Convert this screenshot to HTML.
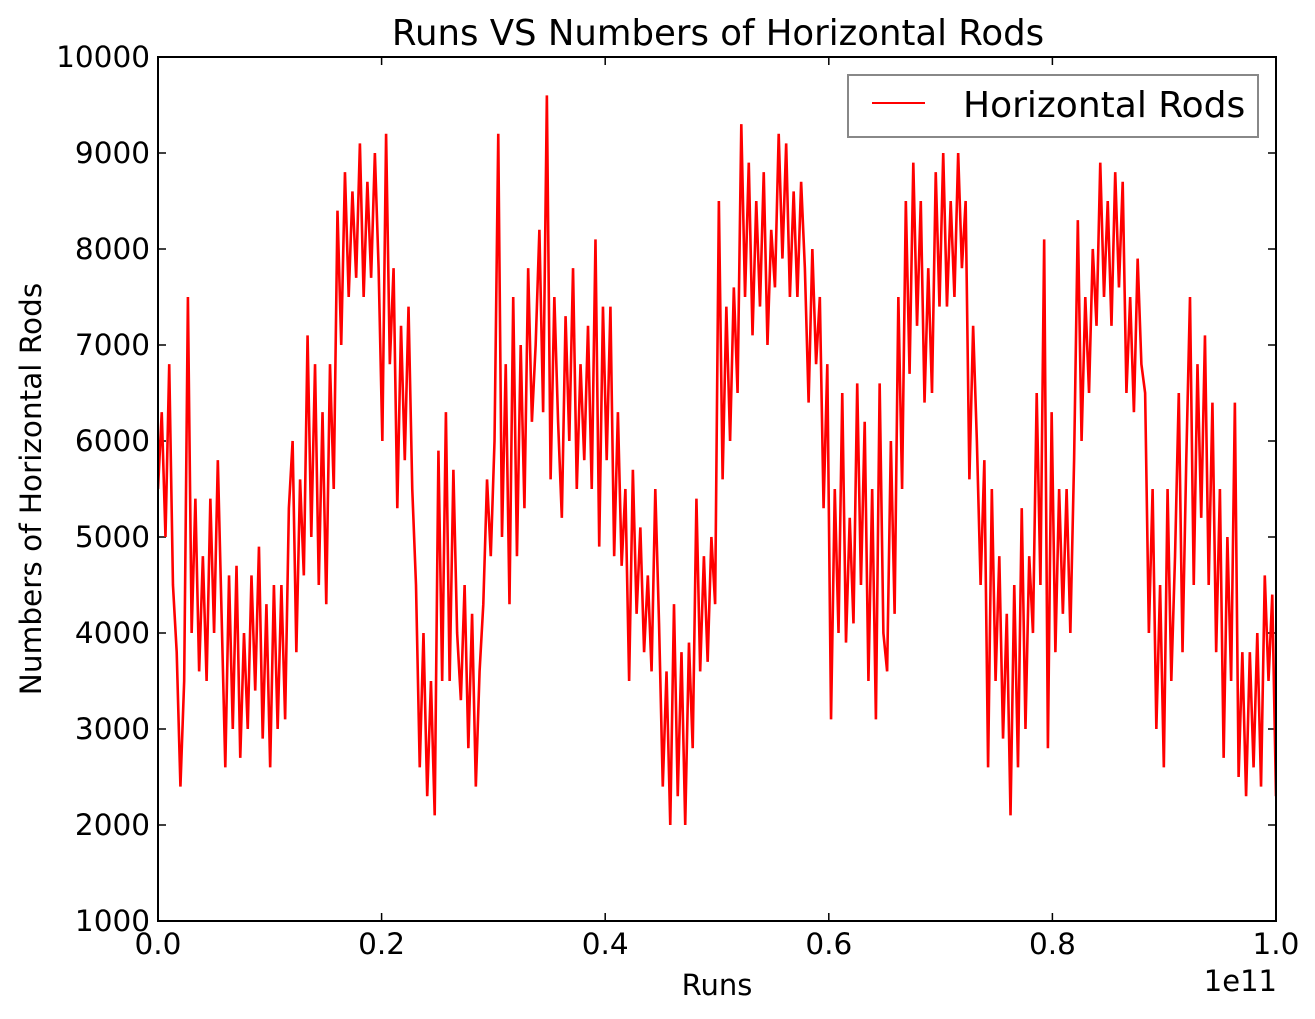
<!DOCTYPE html>
<html><head><meta charset="utf-8">
<style>
html,body{margin:0;padding:0;background:#fff;}
svg{display:block;font-family:"DejaVu Sans","Liberation Sans",sans-serif;}
</style></head>
<body>
<svg id="chart" width="1315" height="1019" viewBox="0 0 1315 1019" xmlns="http://www.w3.org/2000/svg">
<rect x="0" y="0" width="1315" height="1019" fill="#fff"/>
<text x="718" y="45" font-size="35.5" text-anchor="middle">Runs VS Numbers of Horizontal Rods</text>
<text x="717" y="995" font-size="29" text-anchor="middle">Runs</text>
<text x="1277" y="991" font-size="29" text-anchor="end">1e11</text>
<text x="41" y="489" font-size="29.5" text-anchor="middle" transform="rotate(-90 41 489)">Numbers of Horizontal Rods</text>
<g id="ticks"></g>
<clipPath id="clip"><rect x="158" y="57" width="1118" height="864"/></clipPath>
<g id="series" clip-path="url(#clip)"></g>
<rect x="158" y="57" width="1118" height="864" fill="none" stroke="#000" stroke-width="2"/>
<g>
<rect x="848" y="75" width="410" height="62" fill="#fff" stroke="#888" stroke-width="2"/>
<line x1="872" y1="103" x2="925" y2="103" stroke="#ff0000" stroke-width="2"/>
<text x="963" y="117" font-size="36">Horizontal Rods</text>
</g>
</svg>
<script>
const yTicks = [1000,2000,3000,4000,5000,6000,7000,8000,9000,10000];
const xTicks = [0,0.2,0.4,0.6,0.8,1.0];
const xTickLabels = ["0.0","0.2","0.4","0.6","0.8","1.0"];
const rods = [
5500,6300,5000, 6800,4500,3800, 2400,3500,7500, 4000,5400,3600, 4800,3500,5400,
4000,5800,4200, 2600,4600,3000, 4700,2700,4000, 3000,4600,3400, 4900,2900,4300,
2600,4500,3000, 4500,3100,5300, 6000,3800,5600, 4600,7100,5000, 6800,4500,6300,
4300,6800,5500, 8400,7000,8800, 7500,8600,7700, 9100,7500,8700, 7700,9000,7800,
6000,9200,6800, 7800,5300,7200, 5800,7400,5500, 4500,2600,4000, 2300,3500,2100,
5900,3500,6300, 3500,5700,4000, 3300,4500,2800, 4200,2400,3600, 4300,5600,4800,
6000,9200,5000, 6800,4300,7500, 4800,7000,5300, 7800,6200,7000, 8200,6300,9600,
5600,7500,6200, 5200,7300,6000, 7800,5500,6800, 5800,7200,5500, 8100,4900,7400,
5800,7400,4800, 6300,4700,5500, 3500,5700,4200, 5100,3800,4600, 3600,5500,4100,
2400,3600,2000, 4300,2300,3800, 2000,3900,2800, 5400,3600,4800, 3700,5000,4300,
8500,5600,7400, 6000,7600,6500, 9300,7500,8900, 7100,8500,7400, 8800,7000,8200,
7600,9200,7900, 9100,7500,8600, 7500,8700,7800, 6400,8000,6800, 7500,5300,6800,
3100,5500,4000, 6500,3900,5200, 4100,6600,4500, 6200,3500,5500, 3100,6600,4000,
3600,6000,4200, 7500,5500,8500, 6700,8900,7200, 8500,6400,7800, 6500,8800,7400,
9000,7400,8500, 7500,9000,7800, 8500,5600,7200, 6000,4500,5800, 2600,5500,3500,
4800,2900,4200, 2100,4500,2600, 5300,3000,4800, 4000,6500,4500, 8100,2800,6300,
3800,5500,4200, 5500,4000,5800, 8300,6000,7500, 6500,8000,7200, 8900,7500,8500,
7200,8800,7600, 8700,6500,7500, 6300,7900,6800, 6500,4000,5500, 3000,4500,2600,
5500,3500,4800, 6500,3800,5800, 7500,4500,6800, 5200,7100,4500, 6400,3800,5500,
2700,5000,3500, 6400,2500,3800, 2300,3800,2600, 4000,2400,4600, 3500,4400,2300
];
const NS="http://www.w3.org/2000/svg";
const X0=158,X1=1276,Y0=921,Y1=57;
function xs(v){return X0+(v/1.0)*(X1-X0);}
function ys(v){return Y0-(v-1000)/9000*(Y0-Y1);}
const tg=document.getElementById('ticks');
function mk(tag,attrs,parent){const e=document.createElementNS(NS,tag);for(const k in attrs)e.setAttribute(k,attrs[k]);parent.appendChild(e);return e;}
yTicks.forEach(v=>{
  const y=ys(v);
  const l1=mk('line',{x1:X0,y1:y,x2:X0+8,y2:y,stroke:'#000','stroke-width':1.5},tg);
  
  
  mk('line',{x1:X1-8,y1:y,x2:X1,y2:y,stroke:'#000','stroke-width':1.5},tg);
  const t=mk('text',{x:X0-8,y:y+10,'font-size':29.5,'text-anchor':'end'},tg);
  
  
  t.textContent=v;
});
xTicks.forEach((v,i)=>{
  const x=xs(v);
  const l1=mk('line',{x1:x,y1:Y0,x2:x,y2:Y0-8,stroke:'#000','stroke-width':1.5},tg);
  
  
  mk('line',{x1:x,y1:Y1,x2:x,y2:Y1+8,stroke:'#000','stroke-width':1.5},tg);
  const t=mk('text',{x:x,y:Y0+33,'font-size':29.5,'text-anchor':'middle'},tg);
  
  
  t.textContent=xTickLabels[i];
});
const n=rods.length;
let d='';
rods.forEach((v,i)=>{d+=(i?'L':'M')+xs(i/(n-1)).toFixed(2)+' '+ys(v).toFixed(2);});
const p=mk('path',{d:d,fill:'none',stroke:'#ff0000','stroke-width':2.6,'stroke-linejoin':'miter'},document.getElementById('series'));


</script>
</body></html>
